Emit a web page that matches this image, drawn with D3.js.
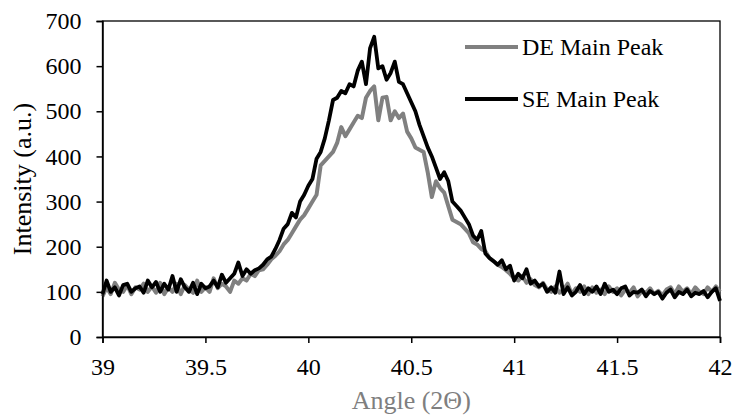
<!DOCTYPE html>
<html>
<head>
<meta charset="utf-8">
<script src="https://cdn.jsdelivr.net/npm/d3@7"></script>
<style>
  body { margin: 0; background: #fff; }
</style>
</head>
<body>
<svg id="chart" width="733" height="415"></svg>
<script>
// angle step is 0.02 deg, 39.00 -> 42.00
const xStart = 39, xStep = 0.02;

const deValues = [
  90, 110, 95, 120, 105, 100, 115, 95, 110, 105,
  118, 100, 112, 98, 120, 95, 110, 100, 118, 95,
  115, 105, 98, 125, 100, 110, 100, 130, 108, 118,
  112, 100, 125, 118, 130, 125, 140, 135, 148, 150,
  160, 172, 180, 190, 205, 215, 230, 245, 260, 270,
  285, 300, 315, 380, 390, 400, 410, 430, 465, 445,
  460, 475, 490, 485, 530, 545, 555, 480, 530, 532,
  480, 500, 485, 495, 455, 440, 420, 415, 410, 365,
  310, 345, 330, 320, 290, 260, 255, 250, 240, 230,
  210, 205, 195, 190, 175, 168, 160, 155, 148, 140,
  130, 125, 135, 120, 128, 115, 110, 120, 105, 100,
  112, 98, 105, 118, 95, 108, 100, 112, 95, 110,
  98, 105, 95, 112, 100, 108, 92, 105, 98, 110,
  90, 102, 98, 108, 95, 102, 92, 105, 110, 95,
  112, 100, 108, 95, 110, 100, 95, 110, 100, 112,
  100
];

const seValues = [
  95, 125, 100, 110, 92, 115, 118, 100, 108, 112,
  98, 125, 110, 122, 100, 118, 105, 135, 100, 128,
  110, 100, 120, 95, 118, 108, 112, 125, 110, 138,
  120, 130, 140, 165, 135, 150, 140, 148, 152, 160,
  172, 178, 195, 215, 240, 250, 275, 265, 300, 315,
  335, 350, 395, 410, 440, 480, 525, 530, 545, 540,
  560, 555, 590, 610, 560, 640, 665, 595, 600, 570,
  585, 610, 565, 560, 540, 520, 500, 470, 445, 420,
  400, 375, 350, 365, 345, 300, 290, 280, 265, 250,
  225, 215, 235, 185, 175, 168, 160, 170, 150, 158,
  125, 140, 130, 150, 118, 125, 112, 118, 100, 110,
  98, 145, 95, 110, 92, 100, 115, 95, 108, 100,
  112, 95, 118, 100, 105, 95, 108, 112, 92, 100,
  98, 105, 90, 102, 95, 100, 85, 98, 105, 88,
  100, 95, 105, 90, 98, 95, 102, 88, 100, 108,
  80
];

const seriesNames = ["DE Main Peak", "SE Main Peak"];
const seriesColors = ["#808080", "#000000"];
const xTicks = [39, 39.5, 40, 40.5, 41, 41.5, 42];
const yTicks = [0, 100, 200, 300, 400, 500, 600, 700];

const serif = '"Liberation Serif", "Times New Roman", serif';

const svg = d3.select("#chart").style("font-family", serif);
const margin = { top: 21, right: 13, bottom: 78, left: 102.5 };
const width = 733 - margin.left - margin.right;
const height = 415 - margin.top - margin.bottom;

const chart = svg.append("g").attr("transform", `translate(${margin.left}, ${margin.top})`);

const x = d3.scaleLinear().domain([39, 42]).range([0, width]);
const y = d3.scaleLinear().domain([0, 700]).range([height, 0]);

const toPoints = vals => vals.map((v, i) => ({ a: xStart + i * xStep, v }));
const series = [deValues, seValues].map((vals, i) => ({ name: seriesNames[i], color: seriesColors[i], points: toPoints(vals) }));
const lineWidth = i => i === 0 ? 4 : 3.8;

// frame (top and right edges)
chart.append("rect")
  .attr("width", width).attr("height", height)
  .attr("fill", "none").attr("stroke", "#000").attr("stroke-width", 1.3);

const line = d3.line().x(d => x(d.a)).y(d => y(d.v));

chart.selectAll(".series").data(series).join("path")
  .attr("class", "series")
  .attr("d", d => line(d.points))
  .attr("fill", "none")
  .attr("stroke", d => d.color)
  .attr("stroke-width", (d, i) => lineWidth(i))
  .attr("stroke-linejoin", "round");

const xAxis = chart.append("g").attr("transform", `translate(0, ${height})`)
  .call(d3.axisBottom(x).tickValues(xTicks).tickSize(6).tickFormat(d3.format("")));
xAxis.selectAll("text").attr("y", 38).attr("dy", 0);

const yAxis = chart.append("g")
  .call(d3.axisLeft(y).tickValues(yTicks).tickSize(6).tickPadding(15));

[xAxis, yAxis].forEach(g => {
  g.attr("font-family", serif).attr("font-size", 24);
  g.selectAll(".tick text").style("font-family", serif).style("font-size", "24px").attr("fill", "#000");
  g.select(".domain").attr("stroke", "#000").attr("stroke-width", 1.5);
  g.selectAll(".tick line").attr("stroke", "#000").attr("stroke-width", 1.5);
});

chart.append("text")
  .attr("x", width / 2).attr("y", height + 72)
  .attr("text-anchor", "middle")
  .attr("font-size", 26).attr("fill", "#7f7f7f")
  .text("Angle (2\u0398)");

chart.append("text")
  .attr("transform", `translate(${-margin.left + 31}, ${height / 2}) rotate(-90)`)
  .attr("text-anchor", "middle")
  .attr("font-size", 26).attr("fill", "#000")
  .text("Intensity (a.u.)");

const legend = svg.append("g").selectAll("g").data(series).join("g")
  .attr("transform", (d, i) => `translate(465, ${47 + i * 52})`);
legend.append("line")
  .attr("x1", 0).attr("x2", 53)
  .attr("stroke", d => d.color)
  .attr("stroke-width", (d, i) => lineWidth(i));
legend.append("text")
  .attr("x", 57).attr("y", 8)
  .attr("font-size", 24).attr("fill", "#000")
  .text(d => d.name);
</script>
</body>
</html>
